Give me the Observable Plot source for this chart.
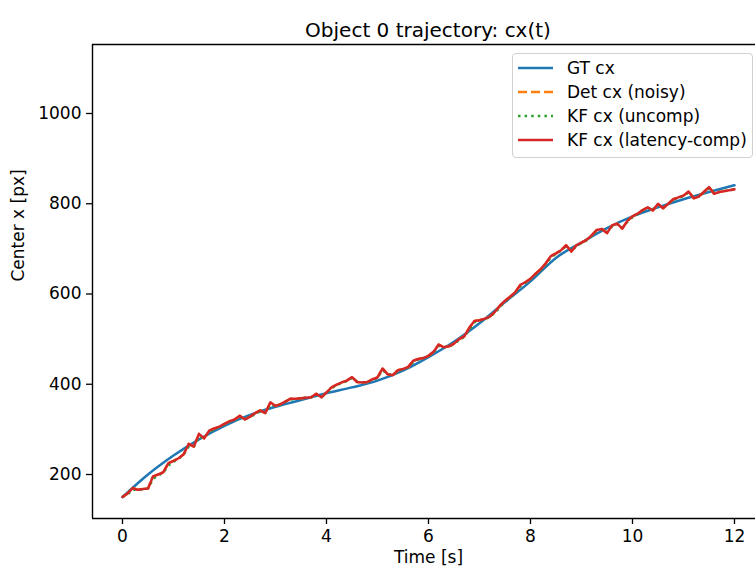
<!DOCTYPE html>
<html><head><meta charset="utf-8">
<script src="https://cdn.jsdelivr.net/npm/d3@7"></script>
<script src="https://cdn.jsdelivr.net/npm/@observablehq/plot@0.6"></script>
<style>
body{margin:0;background:#fff;font-family:"DejaVu Sans",sans-serif;color:#000;}
#wrap{position:relative;width:755px;height:568px;overflow:hidden;}
#title{position:absolute;left:0;top:18px;width:856px;text-align:center;font-size:20px;line-height:24px;white-space:nowrap;}
#chart{position:absolute;left:0;top:43px;}
#legend{position:absolute;left:512px;top:53px;width:239px;height:103px;border:1px solid #d0d0d0;border-radius:4px;background:rgba(255,255,255,0.85);}
.row{position:absolute;left:0;height:24px;line-height:24px;font-size:17px;white-space:nowrap;}
.row svg{position:absolute;left:5px;top:0;}
.row span{position:absolute;left:54px;top:0;}
</style></head>
<body><div id="wrap"><div id="title">Object 0 trajectory: cx(t)</div><div id="chart"></div><div id="legend"></div></div>
<script>
// ---- data ----
const gtTime = [0,0.5,1,1.5,2,2.5,3,3.5,4,4.5,5,5.5,6,6.5,7,7.5,8,8.5,9,9.5,10,10.5,11,11.5,12];
const gtCx   = [150,200,242,278,308,332,350,365,380,393,408,430,460,494,535,582,628,680,714,746,772,792,810,826,841];

const sampleTime = d3.range(121).map(i => +(i / 10).toFixed(1));
const detCx = [150,158,170,166,168,169,196,200,205,225,
230,236,245,268,262,290,280,297,302,306,
312,318,322,330,322,328,336,342,336,360,
352,356,362,368,368,369,370,371,379,371,
382,393,399,404,408,416,405,404,405,411,
415,435,422,420,431,434,438,452,456,458,
463,472,488,482,484,490,500,506,525,540,
542,545,550,560,574,585,594,604,620,626,
634,645,655,668,684,690,697,708,694,708,
714,720,730,742,744,735,752,756,745,762,
772,778,786,792,785,800,790,800,810,814,
818,827,812,816,826,837,822,826,828,830,
832];
const kfUncompCx = [150,156,166,166,167,169,190,198,204,220,
228,235,244,262,262,284,281,294,300,305,
311,317,321,328,323,327,334,340,337,355,
352,355,361,366,367,369,370,371,377,372,
380,391,398,403,407,414,406,404,405,410,
414,431,423,420,429,433,437,449,455,458,
462,470,485,482,484,489,498,505,521,537,
541,544,549,558,571,583,592,602,617,625,
633,643,653,666,681,689,696,706,696,706,
713,719,729,740,743,737,750,755,747,760,
770,777,785,791,786,798,791,799,808,813,
817,825,814,816,825,835,824,826,828,830,
831];
const kfCompCx = [150,158,170,166,168,169,196,200,205,225,
230,236,245,268,262,290,280,297,302,306,
312,318,322,330,322,328,336,342,336,360,
352,356,362,368,368,369,370,371,379,371,
382,393,399,404,408,416,405,404,405,411,
415,435,422,420,431,434,438,452,456,458,
463,472,488,482,484,490,500,506,525,540,
542,545,550,560,574,585,594,604,620,626,
634,645,655,668,684,690,697,708,694,708,
714,720,730,742,744,735,752,756,745,762,
772,778,786,792,785,800,790,800,810,814,
818,827,812,816,826,837,822,826,828,830,
832];

const seriesNames = ["GT cx","Det cx (noisy)","KF cx (uncomp)","KF cx (latency-comp)"];
const seriesColors = ["#1f77b4","#ff7f0e","#2ca02c","#d62728"];
const seriesDash = [null,"9,4","2.5,4.1",null];
const xTicks = [0,2,4,6,8,10,12];
const yTicks = [200,400,600,800,1000];
const xDomain = [-0.588, 12.412];
const yDomain = [102.5, 1152.9];

// ---- tables ----
const gt = gtTime.map((t,i) => ({t, cx: gtCx[i]}));
const det = sampleTime.map((t,i) => ({t, cx: detCx[i]}));
const unc = sampleTime.map((t,i) => ({t, cx: kfUncompCx[i]}));
const comp = sampleTime.map((t,i) => ({t, cx: kfCompCx[i]}));

const lw = 2.5;
const chart = Plot.plot({
  width: 755, height: 525,
  marginTop: 1, marginBottom: 50, marginLeft: 92, marginRight: 0,
  x: {domain: xDomain},
  y: {domain: yDomain},
  style: {fontSize: "17px", fontFamily: "DejaVu Sans", color: "#000", background: "transparent", overflow: "visible"},
  marks: [
    Plot.axisX({ticks: xTicks, tickSize: 6, tickPadding: 5, tickFormat: d3.format("d"), label: null, strokeWidth: 1.3}),
    Plot.axisY({ticks: yTicks, tickSize: 6, tickPadding: 5, tickFormat: d3.format("d"), label: null, strokeWidth: 1.3}),
    Plot.line(gt, {x: "t", y: "cx", stroke: seriesColors[0], strokeWidth: lw, curve: "monotone-x"}),
    Plot.line(det, {x: "t", y: "cx", stroke: seriesColors[1], strokeWidth: lw, strokeDasharray: seriesDash[1], strokeLinecap: "butt"}),
    Plot.line(unc, {x: "t", y: "cx", stroke: seriesColors[2], strokeWidth: lw, strokeDasharray: seriesDash[2], strokeLinecap: "butt"}),
    Plot.line(comp, {x: "t", y: "cx", stroke: seriesColors[3], strokeWidth: lw}),
    Plot.ruleX([xDomain[0]], {strokeWidth: 1.4}),
    Plot.ruleY([yDomain[0], yDomain[1]], {strokeWidth: 1.4}),
    Plot.text(["Center x [px]"], {text: d => d, frameAnchor: "left", dx: -74, rotate: -90, fontSize: 17}),
    Plot.text(["Time [s]"], {text: d => d, frameAnchor: "bottom", dx: 4.5, dy: 39, lineAnchor: "middle", fontSize: 17})
  ]
});
document.getElementById("chart").appendChild(chart);

// ---- legend ----
const leg = document.getElementById("legend");
const centers = [14, 38, 62, 86];
seriesNames.forEach((name, i) => {
  const row = document.createElement("div");
  row.className = "row";
  row.style.top = (centers[i] - 12) + "px";
  const dash = seriesDash[i] ? `stroke-dasharray="${seriesDash[i]}"` : "";
  row.innerHTML = `<svg width="36" height="24"><line x1="0" x2="35" y1="12" y2="12" stroke="${seriesColors[i]}" stroke-width="${lw}" ${dash}/></svg><span>${name}</span>`;
  leg.appendChild(row);
});
</script>
</body></html>
